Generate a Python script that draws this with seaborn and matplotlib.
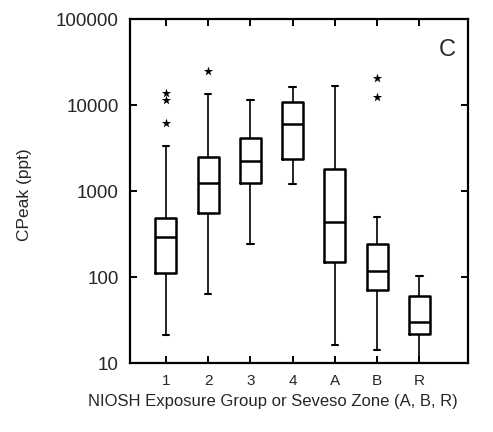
import numpy as np
import pandas as pd
import matplotlib
matplotlib.use("Agg")
import matplotlib.pyplot as plt
import seaborn as sns

# Box summaries (ppt)
groups = ['1', '2', '3', '4', 'A', 'B', 'R']
whisk_lo = [21, 63, 242, 1200, 16, 14, 10]
q1 = [111, 555, 1240, 2350, 149, 71, 22]
med = [290, 1240, 2230, 6000, 440, 118, 30]
q3 = [480, 2480, 4130, 10800, 1800, 242, 60]
whisk_hi = [3300, 13400, 11400, 16200, 16600, 500, 103]

# outliers drawn as stars
out_group = ['1', '1', '1', '2', 'B', 'B']
out_value = [13800, 11400, 6200, 24800, 20600, 12400]

# five-number summary per group as rows
rows = []
for g, a, b, c, d, e in zip(groups, whisk_lo, q1, med, q3, whisk_hi):
    for v in (a, b, c, d, e):
        rows.append({'group': g, 'cpeak': v})
box_df = pd.DataFrame(rows)
out_df = pd.DataFrame({'group': out_group, 'cpeak': out_value})

sns.set_style("white")
plt.rcParams['font.family'] = ['Liberation Sans', 'DejaVu Sans']

fig = plt.figure(figsize=(4.93, 4.32), dpi=100)
ax = fig.add_axes([130 / 493, 1 - 363 / 432, 338 / 493, 344 / 432])

sns.boxplot(data=box_df, x='group', y='cpeak', order=groups, ax=ax,
            whis=(0, 100), width=0.5, fill=False, color='black',
            linecolor='black', linewidth=1.8, log_scale=True,
            capwidths=0.15,
            whiskerprops={'linewidth': 1.2},
            capprops={'linewidth': 1.5})
sns.stripplot(data=out_df, x='group', y='cpeak', order=groups, ax=ax,
              jitter=False, marker='*', size=7, color='black')

ax.set_ylim(10, 100000)
ax.set_xlim(-0.85, 7.15)
ax.set_yticks([10, 100, 1000, 10000, 100000])
ax.set_yticklabels(['10', '100', '1000', '10000', '100000'])
ax.yaxis.set_minor_locator(matplotlib.ticker.NullLocator())

for s in ax.spines.values():
    s.set_visible(True)
    s.set_color('black')
    s.set_linewidth(1.6)

ax.tick_params(axis='both', direction='in', length=5, width=1.4,
               top=True, right=True, bottom=True, left=True, color='black')
ax.tick_params(axis='y', labelsize=13.5, pad=8)
ax.tick_params(axis='x', labelsize=11, pad=8)

ax.set_xlabel('NIOSH Exposure Group or Seveso Zone (A, B, R)', fontsize=12)
ax.set_ylabel('CPeak (ppt)', fontsize=12.5)
ax.xaxis.set_label_coords(0.423, -0.09)
ax.yaxis.set_label_coords(-0.29, 0.488)

ax.text(0.94, 0.91, 'C', transform=ax.transAxes, fontsize=17,
        ha='center', va='center')

fig.savefig('out.png', dpi=100)
